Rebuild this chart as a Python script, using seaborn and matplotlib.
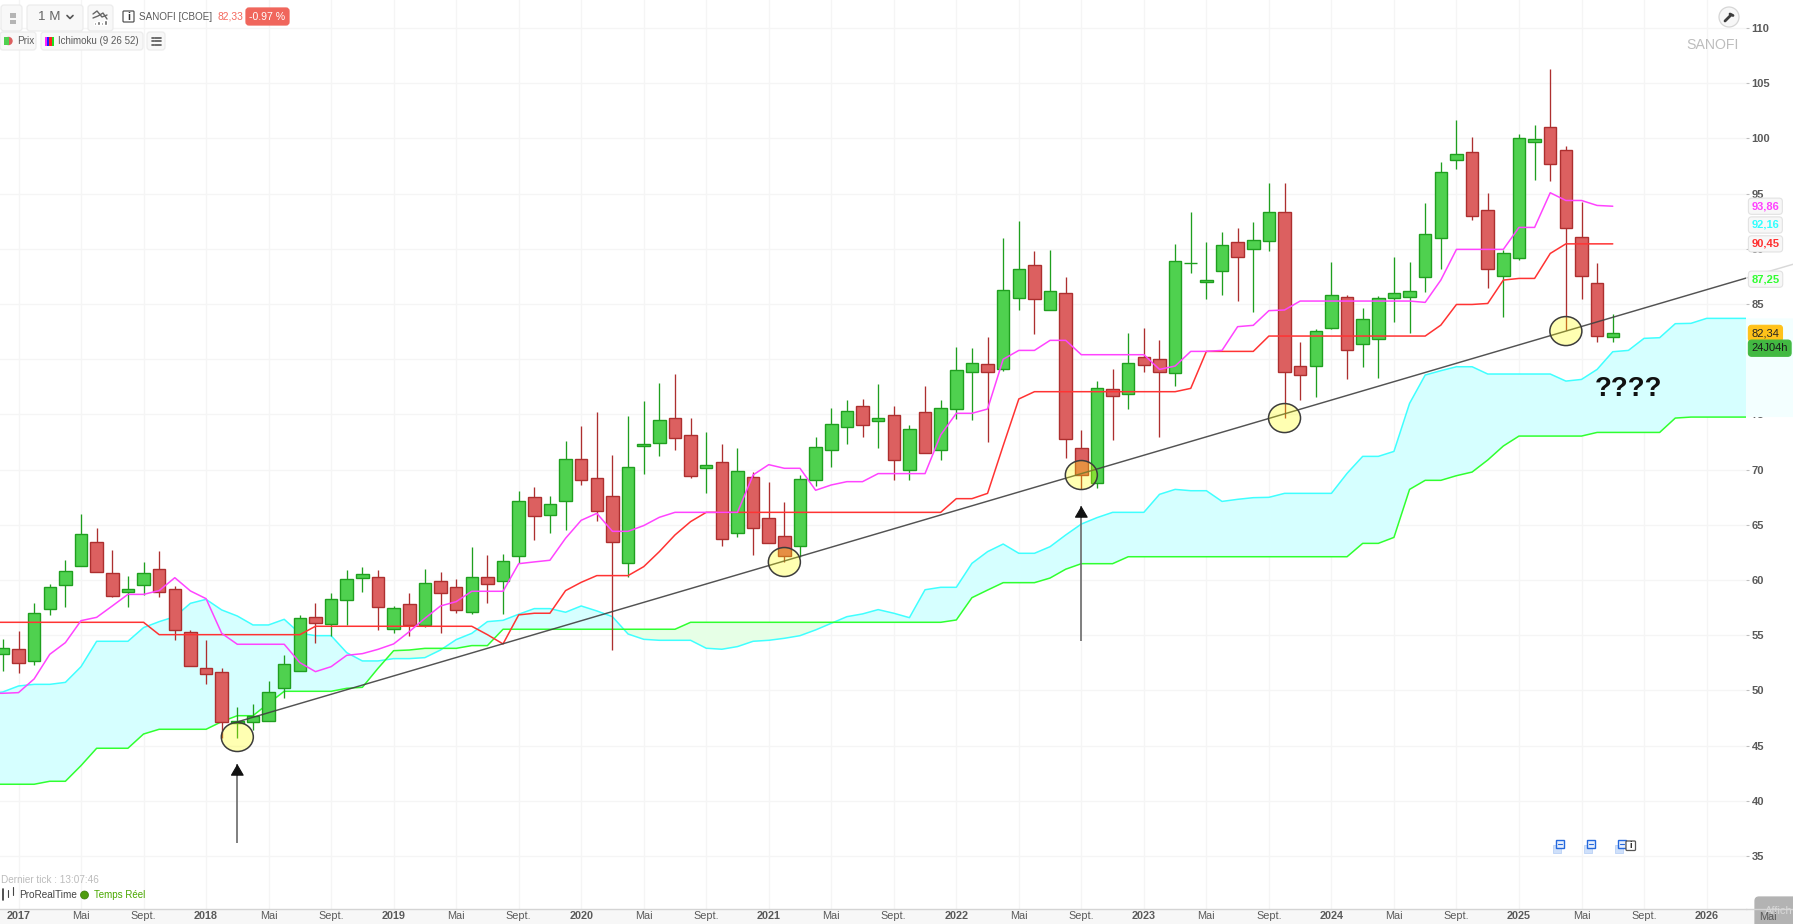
"""SANOFI monthly candles with Ichimoku cloud, ProRealTime screen look."""

import numpy as np
import pandas as pd
import matplotlib
matplotlib.use("Agg")
import matplotlib.pyplot as plt
import seaborn as sns
from matplotlib.patches import Ellipse, FancyBboxPatch, Rectangle, Circle
from matplotlib.transforms import Bbox

W, H = 1793, 924
FONT = "Liberation Sans"

# months counted from January 2017, candles start December 2016
opens = [
    53.27, 53.72, 52.67, 57.41, 59.52, 61.24, 63.41, 60.61, 58.95, 59.52,
    60.97, 59.19, 55.32, 52.00, 51.70, 47.02, 47.11, 47.20, 50.22, 51.76,
    56.68, 56.05, 58.22, 60.15, 60.30, 55.53, 57.80, 55.90, 59.94, 59.34,
    57.08, 60.31, 59.95, 62.15, 67.55, 65.86, 67.13, 70.99, 69.27, 67.64,
    61.52, 72.14, 72.38, 74.65, 73.14, 70.12, 70.69, 64.23, 69.36, 65.62,
    64.02, 63.05, 69.03, 71.75, 73.89, 75.73, 74.38, 74.92, 69.94, 75.25,
    71.75, 75.49, 78.84, 79.57, 79.08, 85.51, 88.53, 84.46, 86.03, 71.99,
    68.82, 77.33, 76.82, 80.23, 80.05, 78.75, 88.68, 86.99, 88.02, 90.65,
    90.01, 90.74, 93.33, 79.36, 79.36, 82.83, 85.66, 81.34, 81.86, 85.51,
    85.60, 87.47, 90.94, 98.01, 98.73, 93.48, 87.56, 89.19, 99.70, 101.00,
    98.97, 91.06, 86.93, 82.01,
]
highs = [
    54.63, 55.38, 57.89, 59.64, 61.81, 65.98, 64.68, 62.72, 60.37, 61.66,
    62.63, 59.46, 55.47, 54.57, 52.06, 48.53, 48.77, 50.83, 53.21, 56.80,
    57.92, 58.86, 60.88, 61.15, 60.94, 57.65, 58.83, 61.00, 60.70, 60.07,
    62.96, 62.24, 62.33, 68.04, 68.40, 67.61, 72.60, 73.95, 75.25, 71.36,
    74.86, 76.19, 77.82, 78.66, 74.71, 73.38, 72.32, 71.93, 69.82, 68.91,
    67.04, 69.49, 72.93, 75.58, 76.31, 76.37, 77.73, 75.77, 74.04, 77.54,
    76.34, 81.14, 80.99, 82.04, 90.95, 92.55, 89.80, 89.89, 87.42, 73.59,
    78.03, 79.11, 82.37, 82.80, 81.74, 90.43, 93.30, 90.62, 91.49, 91.91,
    92.46, 95.96, 95.96, 81.53, 82.71, 88.80, 85.81, 84.60, 85.72, 89.28,
    88.80, 94.11, 97.83, 101.66, 100.09, 95.02, 89.89, 100.39, 101.18, 106.25,
    99.30, 94.26, 88.68, 84.06,
]
lows = [
    51.76, 51.61, 52.33, 56.80, 57.59, 61.24, 60.73, 58.43, 57.53, 58.64,
    58.49, 54.60, 52.18, 50.58, 45.66, 45.66, 46.42, 47.20, 49.29, 51.76,
    54.27, 54.93, 55.93, 58.92, 55.50, 55.23, 54.93, 55.75, 55.23, 57.05,
    56.90, 57.95, 56.90, 61.58, 63.66, 64.29, 64.56, 68.64, 65.35, 53.64,
    60.31, 69.61, 71.24, 71.81, 69.27, 67.89, 63.12, 63.90, 62.27, 63.33,
    61.67, 62.12, 68.52, 70.27, 72.29, 72.93, 71.99, 69.09, 69.03, 71.48,
    70.90, 74.58, 74.49, 72.47, 78.96, 84.43, 82.31, 84.46, 71.08, 68.28,
    68.37, 72.71, 75.46, 78.87, 72.95, 77.57, 87.84, 85.48, 85.82, 85.30,
    84.28, 89.83, 74.71, 76.28, 76.61, 82.71, 78.17, 79.32, 78.32, 83.40,
    82.40, 86.05, 88.17, 97.25, 92.63, 86.44, 83.85, 89.01, 96.23, 96.17,
    82.64, 85.48, 81.55, 81.55,
]
closes = [
    53.81, 52.51, 57.04, 59.34, 60.82, 64.17, 60.73, 58.58, 59.22, 60.67,
    58.95, 55.44, 52.18, 51.46, 47.11, 47.26, 47.69, 49.83, 52.36, 56.59,
    56.08, 58.28, 60.06, 60.52, 57.56, 57.47, 55.90, 59.70, 58.80, 57.32,
    60.31, 59.61, 61.70, 67.19, 65.80, 66.92, 70.99, 69.06, 66.22, 63.42,
    70.27, 72.29, 74.53, 72.90, 69.46, 70.39, 63.69, 69.88, 64.75, 63.33,
    62.21, 69.12, 72.08, 74.10, 75.34, 74.01, 74.68, 70.84, 73.71, 71.48,
    75.55, 79.05, 79.63, 78.84, 86.24, 88.14, 85.42, 86.18, 72.80, 69.48,
    77.42, 76.64, 79.63, 79.48, 78.84, 88.86, 88.74, 87.14, 90.31, 89.29,
    90.77, 93.33, 78.84, 78.60, 82.59, 85.85, 80.80, 83.64, 85.57, 85.99,
    86.17, 91.30, 96.92, 98.55, 92.99, 88.19, 89.58, 100.03, 99.97, 97.64,
    91.85, 87.53, 82.13, 82.34,
]

# Ichimoku lines, starting one month before the first candle
tenkan = [
    49.74, 49.74, 49.80, 51.04, 53.27, 54.33, 56.32, 56.62, 57.65, 58.70,
    58.70, 59.04, 60.21, 59.01, 58.31, 55.17, 54.18, 54.18, 54.18, 54.18,
    52.52, 51.70, 52.15, 53.18, 53.33, 53.72, 54.21, 55.32, 56.53, 57.65,
    58.04, 58.98, 58.98, 58.98, 61.48, 61.64, 61.79, 63.78, 65.41, 66.04,
    64.41, 64.41, 64.93, 65.68, 66.13, 66.13, 66.13, 66.13, 66.13, 69.52,
    70.45, 70.12, 70.12, 68.13, 68.61, 68.91, 68.91, 69.64, 69.64, 69.64,
    69.64, 73.14, 75.10, 75.10, 75.49, 80.00, 80.80, 80.80, 81.71, 81.71,
    80.41, 80.41, 80.41, 80.41, 80.41, 79.08, 79.38, 80.71, 80.71, 80.80,
    82.95, 83.07, 84.40, 84.46, 85.27, 85.27, 85.27, 85.27, 85.27, 85.27,
    85.27, 85.27, 85.15, 87.17, 89.95, 89.95, 89.95, 89.95, 91.94, 91.94,
    95.08, 94.38, 94.38, 93.93, 93.86,
]
kijun = [
    56.17, 56.17, 56.17, 56.17, 56.17, 56.17, 56.17, 56.17, 56.17, 56.17,
    56.17, 55.05, 55.05, 55.05, 55.05, 55.05, 55.05, 55.05, 55.05, 55.05,
    55.05, 55.81, 55.81, 55.81, 55.81, 55.81, 55.81, 55.81, 55.81, 55.81,
    55.81, 55.81, 55.05, 54.21, 56.84, 56.99, 56.99, 59.04, 59.79, 60.40,
    60.40, 60.40, 61.21, 62.57, 64.08, 65.29, 66.13, 66.13, 66.13, 66.13,
    66.13, 66.13, 66.13, 66.13, 66.13, 66.13, 66.13, 66.13, 66.13, 66.13,
    66.13, 66.13, 67.37, 67.37, 67.85, 72.17, 76.40, 77.06, 77.06, 77.06,
    77.06, 77.06, 77.06, 77.06, 77.06, 77.06, 77.06, 77.36, 80.71, 80.71,
    80.71, 80.71, 82.10, 82.10, 82.10, 82.10, 82.10, 82.10, 82.10, 82.10,
    82.10, 82.10, 82.10, 83.09, 84.96, 84.96, 85.05, 87.17, 87.32, 87.32,
    89.58, 90.45, 90.45, 90.45, 90.45,
]
senkou_a = [
    49.70, 49.86, 50.40, 50.55, 50.55, 50.73, 52.15, 54.45, 54.45, 54.45,
    55.69, 56.23, 56.68, 57.89, 58.25, 57.29, 56.74, 55.93, 55.93, 56.44,
    55.17, 54.96, 54.96, 53.42, 52.67, 52.67, 52.88, 52.88, 52.97, 53.66,
    54.60, 55.17, 56.23, 56.35, 56.90, 57.41, 57.41, 57.08, 57.65, 57.20,
    56.68, 55.11, 54.63, 54.54, 54.54, 54.54, 53.82, 53.73, 53.97, 54.45,
    54.54, 54.72, 54.96, 55.48, 56.08, 56.68, 56.93, 57.32, 56.99, 56.59,
    59.12, 59.34, 59.34, 61.51, 62.57, 63.26, 62.42, 62.42, 63.02, 64.08,
    65.07, 65.65, 66.13, 66.13, 66.13, 67.76, 68.21, 68.09, 68.09, 67.12,
    67.31, 67.46, 67.49, 67.85, 67.85, 67.85, 67.85, 69.66, 71.20, 71.20,
    71.65, 76.00, 78.57, 78.96, 79.32, 79.32, 78.66, 78.66, 78.66, 78.66,
    78.66, 78.02, 78.17, 79.08, 80.68, 80.80, 81.89, 81.95, 83.22, 83.25,
    83.70, 83.70, 83.70, 83.70, 83.70, 83.70, 83.70,
]
senkou_b = [
    41.50, 41.50, 41.50, 41.50, 41.77, 41.77, 43.19, 44.76, 44.76, 44.76,
    46.05, 46.48, 46.48, 46.48, 46.48, 47.17, 47.71, 47.71, 48.83, 49.92,
    49.92, 49.92, 49.92, 50.19, 50.28, 52.00, 53.60, 53.66, 53.81, 53.81,
    53.81, 54.06, 54.06, 55.54, 55.54, 55.54, 55.54, 55.54, 55.54, 55.54,
    55.54, 55.54, 55.54, 55.54, 55.54, 56.17, 56.17, 56.17, 56.17, 56.17,
    56.17, 56.17, 56.17, 56.17, 56.17, 56.17, 56.17, 56.17, 56.17, 56.17,
    56.17, 56.17, 56.38, 58.40, 59.09, 59.76, 59.76, 59.76, 60.18, 60.98,
    61.48, 61.48, 61.48, 62.11, 62.11, 62.11, 62.11, 62.11, 62.11, 62.11,
    62.11, 62.11, 62.11, 62.11, 62.11, 62.11, 62.11, 62.11, 63.32, 63.32,
    63.86, 68.21, 69.03, 69.03, 69.45, 69.78, 70.87, 72.14, 73.04, 73.04,
    73.04, 73.04, 73.04, 73.37, 73.37, 73.37, 73.37, 73.37, 74.67, 74.76,
    74.76, 74.76, 74.76, 74.76, 74.76, 74.76, 74.76,
]

trend_months = [13.98, 113.53]
trend_prices = [47.14, 88.60]

touch_months = [14, 49, 68, 81, 99]
touch_prices = [45.78, 61.63, 69.51, 74.67, 82.55]

arrow_months = [14, 68]
arrow_tips = [43.33, 66.70]
arrow_tails = [36.18, 54.47]

price_ticks = [35, 40, 45, 50, 55, 60, 65, 70, 75, 80, 85, 90, 95, 100, 105, 110]
month_ticks = list(range(0, 112, 4))
month_labels = [
    "2017", "Mai", "Sept.", "2018", "Mai", "Sept.", "2019", "Mai", "Sept.", "2020",
    "Mai", "Sept.", "2021", "Mai", "Sept.", "2022", "Mai", "Sept.", "2023", "Mai",
    "Sept.", "2024", "Mai", "Sept.", "2025", "Mai", "Sept.", "2026",
]

tag_prices = [93.86, 92.16, 90.45, 87.25, 82.34, 81.00]
tag_labels = ["93,86", "92,16", "90,45", "87,25", "82,34", "24J04h"]
tag_text = ["#ff40ff", "#30ffff", "#ff3030", "#30ff30", "#222222", "#1a1a1a"]
tag_fill = ["#f7f7f7", "#f7f7f7", "#f7f7f7", "#f7f7f7", "#ffc21a", "#42b942"]

assert len(opens) == len(highs) == len(lows) == len(closes) == 104
assert len(tenkan) == len(kijun) == 105
assert len(senkou_a) == len(senkou_b) == 117

candles = pd.DataFrame({
    "month": np.arange(-1, 103),
    "open": opens, "high": highs, "low": lows, "close": closes,
})
candles["up"] = candles["close"] >= candles["open"]
line_months = np.arange(-2, 103)
cloud_months = np.arange(-2, 115)
cloud_a = np.array(senkou_a)
cloud_b = np.array(senkou_b)

sns.set_theme(style="white")
plt.rcParams["font.family"] = [FONT, "DejaVu Sans"]

fig = plt.figure(figsize=(W / 100, H / 100), dpi=100, facecolor="white")
# grey strip behind the date axis
fig.add_artist(Rectangle((0, 0), 1, 15 / H, transform=fig.transFigure,
                         fc="#f7f7f7", ec="none", zorder=-1))
ax = fig.add_axes([0, 15 / H, 1746 / W, 909 / H], facecolor="none")
ax.set_xlim(-18.5 / 15.63, 1727.5 / 15.63)
ax.set_ylim(30.2, 112.54)
ax.set_axisbelow(True)

# the price column on the right shows the cloud and the trend line washed out
strip = Bbox([[1746, 15], [W, H]])

ax.fill_between(cloud_months, cloud_a, cloud_b, where=cloud_a >= cloud_b, interpolate=True,
                color="#d6ffff", lw=0, zorder=1)
ax.fill_between(cloud_months, cloud_a, cloud_b, where=cloud_a < cloud_b, interpolate=True,
                color="#e6ffe6", lw=0, zorder=1)
washed = ax.fill_between(cloud_months, cloud_a, cloud_b, color="#f3ffff", lw=0, zorder=1)
washed.set_clip_box(strip)

sns.lineplot(x=cloud_months, y=cloud_a, color="#40ffff", lw=1.1, ax=ax, zorder=2)
sns.lineplot(x=cloud_months, y=cloud_b, color="#30ff30", lw=1.1, ax=ax, zorder=2)

for is_up, fill, edge in [(True, "#4fd14f", "#1f9f1f"), (False, "#dc6060", "#ad2f2f")]:
    part = candles[candles["up"] == is_up]
    ax.vlines(part["month"], part["low"], part["high"], color=edge, lw=0.95, zorder=2.5)
    ax.bar(part["month"], (part["close"] - part["open"]).abs(),
           bottom=part[["open", "close"]].min(axis=1), width=0.8,
           color=fill, edgecolor=edge, linewidth=1.0, zorder=3)

sns.lineplot(x=line_months, y=kijun, color="#ff3333", lw=1.1, ax=ax, zorder=3.5)
sns.lineplot(x=line_months, y=tenkan, color="#ff44ff", lw=1.1, ax=ax, zorder=3.6)

ax.plot(trend_months, trend_prices, color="#404040", lw=1.05, alpha=0.9, zorder=4)
trend_end, = ax.plot(trend_months, trend_prices, color="#d8d8d8", lw=1.05, zorder=4)
trend_end.set_clip_box(strip)

for month, price in zip(touch_months, touch_prices):
    ax.add_patch(Ellipse((month, price), 32 / 15.63, 29 / 11.04, fc=(1, 1, 0, 0.3),
                         ec="#3c3c3c", lw=1.1, zorder=5))

# grey shaft, black head
ax.vlines(arrow_months, arrow_tails, arrow_tips, color="#6a6a6a", lw=1.2, zorder=5)
for month, tip in zip(arrow_months, arrow_tips):
    ax.annotate("", xy=(month, tip), xytext=(month, tip - 1.0), zorder=5,
                arrowprops=dict(arrowstyle="-|>,head_width=0.42,head_length=0.72", mutation_scale=10,
                                color="#111111", lw=0.8, shrinkA=0, shrinkB=0))

ax.text(103, 77.3, "????", ha="center", va="center", fontsize=20, fontweight="bold",
        color="#111111", zorder=6)

sns.despine(ax=ax, left=True, top=True, right=True)
ax.spines["bottom"].set_color("#d4d4d4")
ax.spines["bottom"].set_linewidth(1.0)
ax.grid(True, color="#f5f5f5", lw=1.0)
ax.yaxis.tick_right()
ax.set_yticks(price_ticks)
ax.set_yticklabels([str(p) for p in price_ticks], fontsize=8, color="#5a5a5a", fontweight="bold")
ax.set_xticks(month_ticks)
ax.set_xticklabels(month_labels, fontsize=7.8, color="#5a5a5a")
for label in ax.get_xticklabels():
    if label.get_text().isdigit():
        label.set_fontweight("bold")
ax.tick_params(axis="y", right=True, length=2.5, width=0.8, color="#bdbdbd", pad=1.5)
ax.tick_params(axis="x", bottom=False, length=0, pad=1.5)

for price, text, ink, fill in zip(tag_prices, tag_labels, tag_text, tag_fill):
    ax.text(1 + 5.5 / 1746, price, text, transform=ax.get_yaxis_transform(), va="center", ha="left",
            fontsize=8, color=ink, clip_on=False, zorder=7, fontweight="bold" if fill == "#f7f7f7" else "normal",
            bbox=dict(boxstyle="round,pad=0.28,rounding_size=0.3", fc=fill, ec="#e2e2e2" if fill == "#f7f7f7" else fill, lw=0.8))

# interface chrome, in pixels of the screenshot
ui = fig.add_axes([0, 0, 1, 1], facecolor="none", zorder=10)
ui.set_xlim(0, W)
ui.set_ylim(H, 0)
ui.axis("off")


def chip(x, y, w, h, fc="#f8f8f8", ec="#ececec", rounding=3):
    ui.add_patch(FancyBboxPatch((x, y), w, h, boxstyle=f"round,pad=0,rounding_size={rounding}",
                                fc=fc, ec=ec, lw=0.9))


ui.plot([1746, W], [909, 909], color="#d4d4d4", lw=1.0)

chip(1, 5, 21, 26)
ui.add_patch(Rectangle((9.5, 13), 6, 4.5, fc="#b5b5b5", ec="none"))
ui.add_patch(Rectangle((9.5, 19.5), 6, 4.5, fc="#b5b5b5", ec="none"))
chip(27, 5, 56, 26)
ui.text(37.5, 17.5, "1 M", fontsize=9.6, color="#666666", va="center")
ui.plot([67, 70, 73], [15.5, 18.5, 15.5], color="#555555", lw=1.2)
chip(88, 5, 25, 26)
ui.plot([93, 97, 102, 107], [14, 11, 17, 15], color="#666666", lw=1.0)
ui.plot([93, 98, 103, 107], [18, 16, 13, 19], color="#666666", lw=1.0)
ui.bar([95, 98.5, 102, 105.5], [3, 4, 3, 5], bottom=[22, 21, 22, 20], width=2.2, color="#666666")
chip(123, 11, 11, 11, fc="white", ec="#555555", rounding=1)
ui.text(128.5, 16.7, "i", fontsize=7.5, fontweight="bold", color="#333333", ha="center", va="center")
ui.text(139, 16.8, "SANOFI [CBOE]", fontsize=7.15, color="#5a5a5a", va="center")
ui.text(217, 16.8, "82,33", fontsize=7.4, color="#f4675c", va="center")
chip(246, 8, 43, 17, fc="#f0665c", ec="#f0665c")
ui.text(267.5, 16.8, "-0.97 %", fontsize=7.6, color="white", ha="center", va="center")

chip(0, 32, 36, 18)
ui.add_patch(Circle((8.5, 41), 4.2, fc="#dc5f5f", ec="none"))
ui.add_patch(Rectangle((4.3, 36.8), 4.2, 8.4, fc="#4fd14f", ec="none"))
ui.text(17, 41.5, "Prix", fontsize=7.2, color="#5a5a5a", va="center")
chip(41, 32, 102, 18)
for offset, dot in zip([45, 47.2, 49.4, 51.6], ["#ff20ff", "#2020ff", "#ff2020", "#20e020"]):
    ui.add_patch(Rectangle((offset, 36.5), 2.2, 9, fc=dot, ec="none"))
ui.text(58, 41.5, "Ichimoku (9 26 52)", fontsize=7.05, color="#5a5a5a", va="center")
chip(147, 32, 18, 18)
for row in [37.5, 41, 44.5]:
    ui.plot([152, 153.5], [row, row], color="#555555", lw=1.2)
    ui.plot([155, 160.5], [row, row], color="#555555", lw=1.2)

ui.add_patch(Circle((1729, 17), 10, fc="#f7f7f7", ec="#d6d6d6", lw=0.9))
ui.plot([1725, 1731], [21, 15], color="#3c3c3c", lw=2.0)
ui.plot([1730, 1733], [14, 15.5], color="#3c3c3c", lw=2.0)
ui.text(1713, 45, "SANOFI", fontsize=10.2, color="#bdbdbd", ha="center", va="center")

ui.text(1, 880, "Dernier tick : 13:07:46", fontsize=7.2, color="#bcbcbc", va="center")
ui.plot([3, 3], [889, 900], color="#333333", lw=1.2)
ui.plot([8, 8], [890, 897], color="#444444", lw=0.8)
ui.plot([13, 13], [887, 895], color="#444444", lw=0.8)
ui.text(19, 895, "ProRealTime", fontsize=7.2, color="#444444", va="center")
ui.add_patch(Circle((84.5, 895), 4, fc="#4f9c10", ec="#3d7a0c", lw=0.5))
ui.text(94, 895, "Temps Réel", fontsize=7.0, color="#4aa800", va="center")

for icon_x in [1559, 1590, 1621]:
    ui.add_patch(Rectangle((icon_x - 6, 844.5), 8, 8, fc="#cfe0fa", ec="#b9d0f5", lw=0.6))
    ui.add_patch(Rectangle((icon_x - 3, 840), 8, 8, fc="#e8f0fd", ec="#2468dd", lw=1.0))
    ui.plot([icon_x - 1, icon_x + 3], [844, 844], color="#2468dd", lw=0.8)
chip(1626, 841, 9.5, 9.5, fc="white", ec="#555555", rounding=1)
ui.text(1630.8, 846, "i", fontsize=6.5, fontweight="bold", color="#222222", ha="center", va="center")

chip(1755, 897, 50, 40, fc="#b3b3b3", ec="#b3b3b3", rounding=4)
ui.text(1765, 911, "Affich", fontsize=8, color="#d8d8d8", va="center")
ui.text(1768, 917.5, "Mai", fontsize=7.8, color="#5a5a5a", ha="center", va="center")

fig.savefig("out.png", dpi=100, facecolor="white")
